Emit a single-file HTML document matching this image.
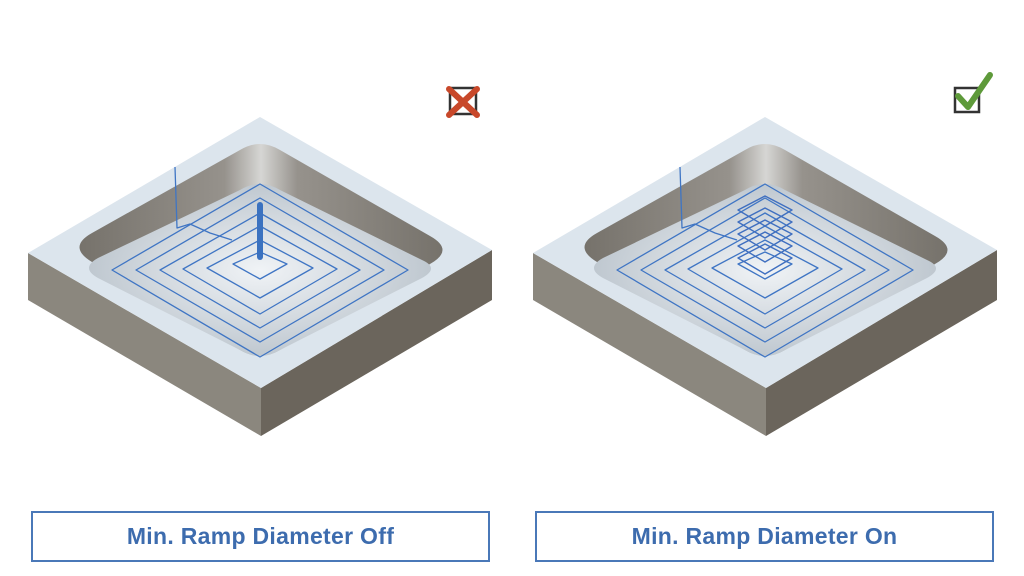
<!DOCTYPE html>
<html><head><meta charset="utf-8"><style>
body{margin:0;background:#fff;width:1024px;height:576px;overflow:hidden;position:relative;font-family:"Liberation Sans",sans-serif}
.lbl{position:absolute;top:511px;height:47px;width:455px;border:2px solid #4a78b8;color:#3d6cae;font-weight:bold;font-size:23px;text-align:center;line-height:47px;letter-spacing:0.3px}
</style></head><body>
<svg width="1024" height="576" style="position:absolute;left:0;top:0">
<defs>
<radialGradient id="fl" cx="0.5" cy="0.5" r="0.6"><stop offset="0" stop-color="#f0f3f6"/><stop offset="1" stop-color="#b5bfc8"/></radialGradient>
<linearGradient id="wl" x1="0" x2="1"><stop offset="0" stop-color="#76726b"/><stop offset="0.4" stop-color="#96928c"/><stop offset="0.5" stop-color="#d6d6d4"/><stop offset="0.6" stop-color="#96928c"/><stop offset="1" stop-color="#76726b"/></linearGradient>
<g id="blk">
<polygon points="28,253 261,388 261,436 28,300" fill="#8b877e"/>
<polygon points="261,388 492,250 492,300 261,436" fill="#6b655c"/>
<polygon points="260,117 492,250 261,388 28,253" fill="#dce5ed"/>
<path d="M240,150 Q260,138 280,150 L430,236 Q455,250 430,264 L280,350 Q260,362 240,350 L92,262 Q67,247 92,233 Z" fill="url(#wl)"/>
<path d="M240,190 Q260,178 280,190 L422,260 Q440,268 422,278 L280,350 Q260,362 240,350 L98,278 Q80,268 98,258 Z" fill="url(#fl)"/>
<g fill="none" stroke="#3f75c4" stroke-width="1.3" stroke-linejoin="round">
<polygon points="260,184 408,270 260,357 112,270"/>
<polygon points="260,198 384,270 260,342 136,270"/>
<polygon points="260,213 360,270 260,328 160,270"/>
<polygon points="260,226 337,269 260,314 183,269"/>
<polygon points="260,240 313,268 260,298 207,268"/>
<polygon points="260,252 287,264 260,279 233,264"/>
<polyline points="175,167 177,228 190,224 210,233 232,240"/>
</g>
</g>
</defs>
<use href="#blk"/>
<use href="#blk" x="505"/>
<line x1="260" y1="205" x2="260" y2="257" stroke="#3b72c0" stroke-width="6" stroke-linecap="round"/>
<g fill="none" stroke="#3f6fc0" stroke-width="1.4" stroke-linejoin="round">
<polygon points="765,196 792,210 765,226 738,210"/>
<polygon points="765,208 792,222 765,238 738,222"/>
<polygon points="765,220 792,234 765,250 738,234"/>
<polygon points="765,232 792,246 765,262 738,246"/>
<polygon points="765,244 792,258 765,274 738,258"/>
</g>
<rect x="450" y="88" width="26" height="26" fill="none" stroke="#333" stroke-width="2.5"/>
<g stroke="#c8482a" stroke-width="6" stroke-linecap="round"><line x1="449" y1="89" x2="477" y2="115"/><line x1="477" y1="89" x2="449" y2="115"/></g>
<rect x="955" y="88" width="24" height="24" fill="none" stroke="#333" stroke-width="2.5"/>
<polyline points="958,96 968,107 990,75" fill="none" stroke="#5e9a3a" stroke-width="6" stroke-linecap="round" stroke-linejoin="round"/>
</svg>
<div class="lbl" style="left:31px">Min. Ramp Diameter Off</div>
<div class="lbl" style="left:535px">Min. Ramp Diameter On</div>
</body></html>
